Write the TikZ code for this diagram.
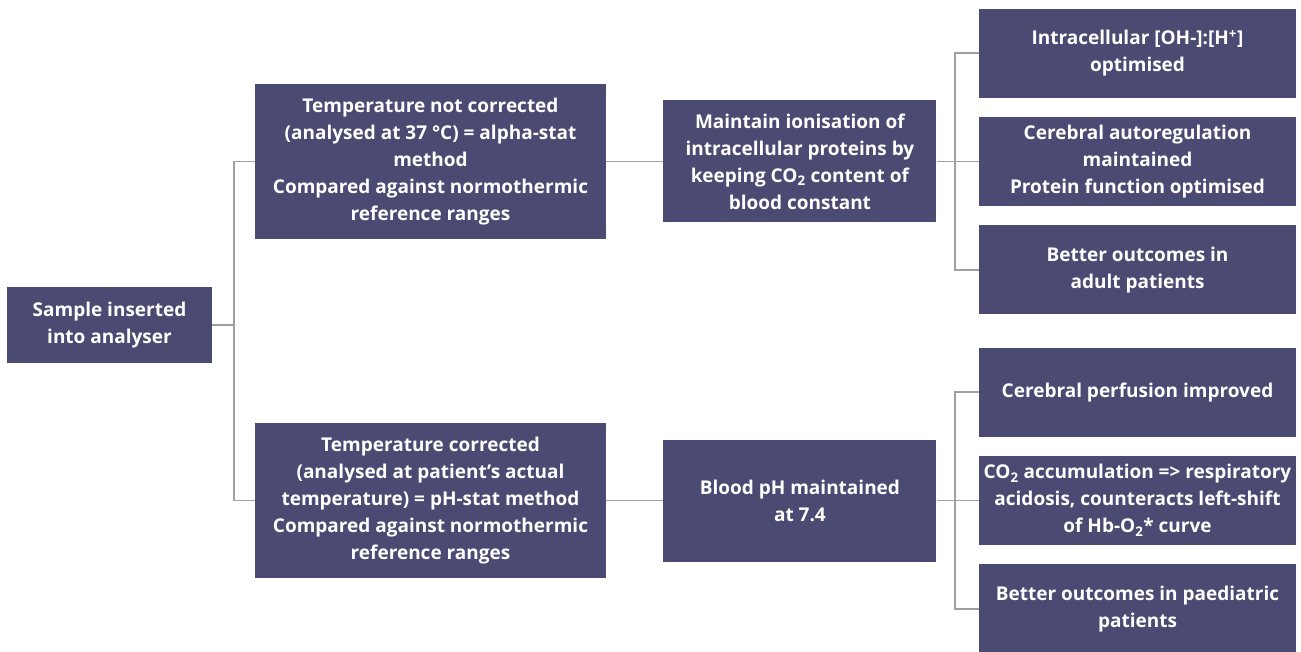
\documentclass[tikz,border=0pt]{standalone}
\usepackage{fontspec}
\setmainfont{Open Sans}
\usetikzlibrary{positioning}
\definecolor{boxblue}{HTML}{4A4A72}
\definecolor{linegrey}{HTML}{A0A0A0}

\begin{document}
\begin{tikzpicture}[
            x = 1pt, y = -1pt, % pixel-like grid, y downwards
            node distance = 19pt, % gap between stacked boxes
            box/.style = {rectangle, fill = boxblue, text = white, inner sep = 0pt,
                align = center, font = \bfseries\fontsize{19}{27}\selectfont},
            link/.style = {draw = linegrey, line width = 1.3pt}
        ]

       \useasboundingbox (0,0) rectangle (1301,652);

       \node[box, minimum width = 205pt, minimum height = 76pt] (S) at (109.5,325) {Sample inserted\\into analyser};

       \node[box, minimum width = 351pt, minimum height = 155pt] (NC) at (430.5,161.5) {Temperature not corrected\\(analysed at 37 °C) = alpha-stat\\method\\Compared against normothermic\\reference ranges};
	\node[box, minimum width = 351pt, minimum height = 155pt] (C) at (430.5,500.5) {Temperature corrected\\(analysed at patient’s actual\\temperature) = pH-stat method\\Compared against normothermic\\reference ranges};

        \node[box, minimum width = 273pt, minimum height = 122pt] (ION) [right = 57pt of NC] {Maintain ionisation of\\intracellular proteins by\\keeping CO\textsubscript{2} content of\\blood constant};
	\node[box, minimum width = 273pt, minimum height = 122pt] (PH) [right = 57pt of C] {Blood pH maintained\\at 7.4};

	\node[box, minimum width = 317pt, minimum height = 89pt] (ION2) at (1137.5,161.5) {Cerebral autoregulation\\maintained\\Protein function optimised};
	\node[box, minimum width = 317pt, minimum height = 89pt] (ION1) [above = of ION2] {Intracellular [OH-]:[H\textsuperscript{+}]\\optimised};
	\node[box, minimum width = 317pt, minimum height = 89pt] (ION3) [below = of ION2] {Better outcomes in\\adult patients};

	\node[box, minimum width = 317pt, minimum height = 89pt] (PH2) at (1137.5,500.5) {CO\textsubscript{2} accumulation => respiratory\\acidosis, counteracts left-shift\\of Hb-O\textsubscript{2}* curve};
	\node[box, minimum width = 317pt, minimum height = 89pt] (PH1) [above = of PH2] {Cerebral perfusion improved};
	\node[box, minimum width = 317pt, minimum height = 89pt] (PH3) [below = of PH2] {Better outcomes in paediatric\\patients};

	% branch points
	\coordinate (J0) at (234,325);
	\coordinate (J1) at (955,161.5);
	\coordinate (J2) at (955,500.5);

	\path[link]
            (S.east) -- (J0)
            (NC.west) -| (J0) |- (C.west)
            (NC.east) -- (ION.west)
            (C.east) -- (PH.west)
            (ION.east) -- (J1)
            (ION1.west) -| (J1) |- (ION3.west)
            (J1) -- (ION2.west)
            (PH.east) -- (J2)
            (PH1.west) -| (J2) |- (PH3.west)
            (J2) -- (PH2.west);

  \end{tikzpicture}
\end{document}
